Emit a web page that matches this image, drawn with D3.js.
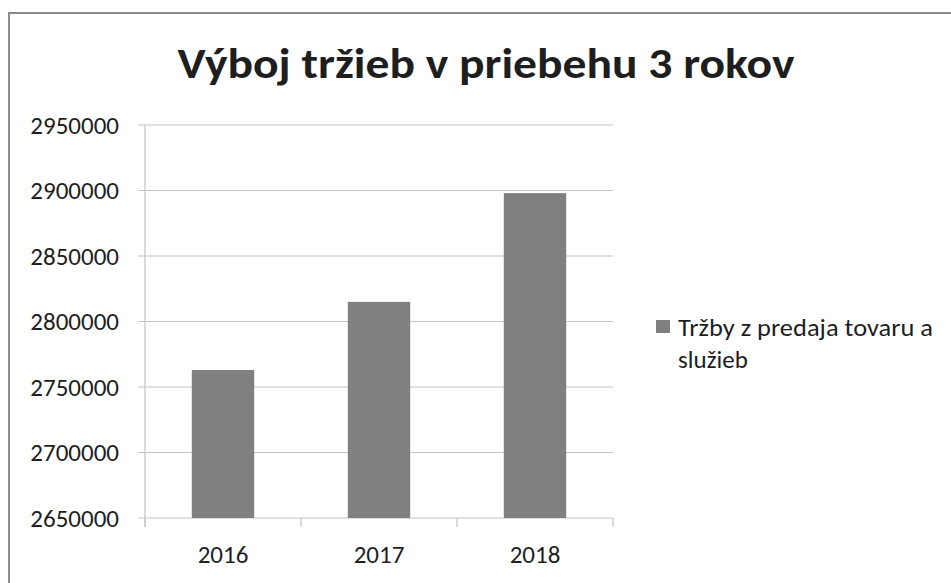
<!DOCTYPE html>
<html>
<head>
<meta charset="utf-8">
<script src="https://cdn.jsdelivr.net/npm/d3@7"></script>
<style>
  html, body { margin: 0; padding: 0; background: #ffffff; }
  svg { display: block; }
  text { font-family: Carlito, Calibri, Lato, "Open Sans", sans-serif; fill: #1e1e1e; }
</style>
</head>
<body>
<svg id="chart" width="951" height="583"></svg>
<script>
var title = 'Výboj tržieb v priebehu 3 rokov'
var years = ['2016', '2017', '2018']
var sales = [2763000, 2815000, 2898000]
var yTicks = [2650000, 2700000, 2750000, 2800000, 2850000, 2900000, 2950000]
var legendLines = ['Tržby z predaja tovaru a', 'služieb']

var svg = d3.select('#chart')
var width = +svg.attr('width')
var height = +svg.attr('height')
var plot = { left: 145, right: 613, top: 125, bottom: 518 }
var barColor = '#808080'
var gridColor = '#c4c4c4'

// chart frame (only top and left edges are in the picture)
svg.append('path')
  .attr('d', 'M9,' + height + 'V13H' + width)
  .attr('fill', 'none')
  .attr('stroke', '#8c8c8c')
  .attr('stroke-width', 2)

var x = d3.scaleBand()
  .domain(years)
  .range([plot.left, plot.right])
  .paddingInner(0.6)
  .paddingOuter(0.3)

var y = d3.scaleLinear()
  .domain([yTicks[0], yTicks[yTicks.length - 1]])
  .range([plot.bottom, plot.top])

// gridlines, with the small outside tick on the left
svg.append('g')
  .selectAll('line')
  .data(yTicks)
  .enter()
  .append('line')
  .attr('x1', plot.left - 7)
  .attr('x2', plot.right)
  .attr('y1', d => y(d))
  .attr('y2', d => y(d))
  .attr('stroke', gridColor)
  .attr('stroke-width', 1.2)

// y labels
var yAxis = svg.append('g')
  .attr('transform', 'translate(' + plot.left + ',0)')
  .call(d3.axisLeft(y).tickValues(yTicks).tickSize(0).tickPadding(26).tickFormat(d3.format('d')))
yAxis.select('.domain').remove()
yAxis.selectAll('text')
  .attr('font-size', 25)
  .attr('font-family', 'Carlito, Calibri, Lato, sans-serif')
  .attr('fill', '#1e1e1e')

// vertical axis line
svg.append('line')
  .attr('x1', plot.left).attr('x2', plot.left)
  .attr('y1', plot.top).attr('y2', plot.bottom + 9)
  .attr('stroke', gridColor)
  .attr('stroke-width', 1.2)

// category boundary ticks
var bounds = d3.range(years.length + 1).map(i => plot.left + i * x.step())
svg.append('g')
  .selectAll('line')
  .data(bounds)
  .enter()
  .append('line')
  .attr('x1', d => d).attr('x2', d => d)
  .attr('y1', plot.bottom).attr('y2', plot.bottom + 9)
  .attr('stroke', gridColor)
  .attr('stroke-width', 1.2)

// bars
svg.append('g')
  .selectAll('rect')
  .data(years)
  .enter()
  .append('rect')
  .attr('x', d => x(d))
  .attr('width', x.bandwidth())
  .attr('y', (d, i) => y(sales[i]))
  .attr('height', (d, i) => plot.bottom - y(sales[i]))
  .attr('fill', barColor)

// x labels
svg.append('g')
  .selectAll('text')
  .data(years)
  .enter()
  .append('text')
  .attr('x', d => x(d) + x.bandwidth() / 2)
  .attr('y', 563)
  .attr('text-anchor', 'middle')
  .attr('font-size', 25)
  .text(d => d)

// title
svg.append('text')
  .attr('x', 486)
  .attr('y', 78)
  .attr('text-anchor', 'middle')
  .attr('font-size', 42)
  .attr('font-weight', 'bold')
  .attr('fill', '#111')
  .attr('textLength', 617)
  .attr('lengthAdjust', 'spacingAndGlyphs')
  .text(title)

// legend
svg.append('rect')
  .attr('x', 656).attr('y', 320)
  .attr('width', 14).attr('height', 13)
  .attr('fill', barColor)
svg.append('g')
  .selectAll('text')
  .data(legendLines)
  .enter()
  .append('text')
  .attr('x', 678)
  .attr('y', (d, i) => 336 + i * 32)
  .attr('font-size', 25)
  .attr('textLength', (d, i) => i == 0 ? 255 : null)
  .attr('lengthAdjust', 'spacingAndGlyphs')
  .text(d => d)
</script>
</body>
</html>
